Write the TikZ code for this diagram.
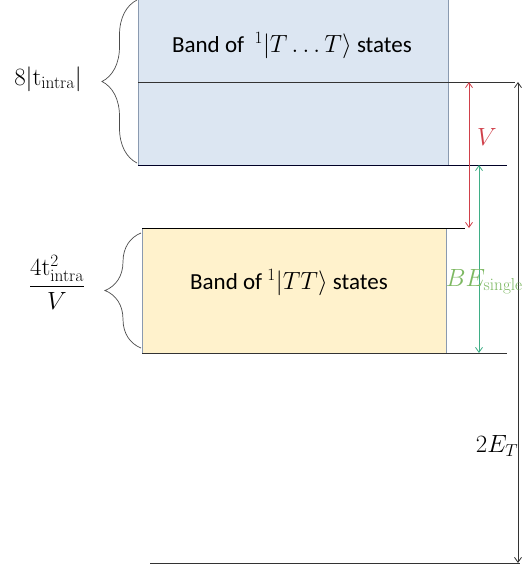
\documentclass[tikz,border=0pt]{standalone}
\usepackage[no-math]{fontspec}
\setmainfont{Carlito}
\usetikzlibrary{arrows.meta,decorations.pathreplacing}

\definecolor{bandblue}{HTML}{DCE6F2}
\definecolor{bandyellow}{HTML}{FFF2CC}
\definecolor{edgegray}{HTML}{8A9AB0}
\definecolor{gapred}{HTML}{D0404A}
\definecolor{bindgreen}{HTML}{3FAE86}
\definecolor{labelgreen}{HTML}{7DB862}

\tikzset{
  level/.style={draw=black!80, line width=0.8pt},
  gap/.style={line width=0.8pt, {Straight Barb[length=5pt,width=7pt]}-{Straight Barb[length=5pt,width=7pt]}},
  bandbrace/.style={decorate, decoration={brace, amplitude=#1}, draw=black!70, line width=0.7pt},
  big/.style={font=\fontsize{23}{27}\selectfont},
  mathbig/.style={font=\fontsize{24}{28}\selectfont}
}

\begin{document}
\begin{tikzpicture}[x=1pt,y=-1pt]
            \useasboundingbox (0,0) rectangle (525,571);

            % bands
            \fill[bandblue] (138,-2) rectangle (448,165);
            \fill[bandyellow] (142,228) rectangle (446,353);
            \draw[edgegray, line width=0.8pt] (138,-2)--(138,165);
            \draw[edgegray, line width=0.8pt] (448,-2)--(448,165);
            \draw[edgegray, line width=0.8pt] (142,228)--(142,353);
            \draw[edgegray, line width=0.8pt] (446,228)--(446,353);

            \node[big] (tband) at (292,46) {Band of \ $^1|T\ldots T\rangle$ states};
            \node[big] (ttband) at (289,283) {Band of $^1|TT\rangle$ states};

            % levels
            \coordinate (ttop) at (138,82);
            \coordinate (tbot) at (138,165);
            \coordinate (ptop) at (142,228);
            \coordinate (pbot) at (142,353);
            \coordinate (zero) at (150,563);

            \draw[level] (ttop)--(515,82);
            \draw[level, draw=black!85!blue] (tbot)--(507,165);
            \draw[level, draw=black] (ptop)--(465,228);
            \draw[level] (pbot)--(507,353);
            \draw[level] (zero)--(520,563);

            % gaps
            \coordinate (va) at (469,82);
            \coordinate (vb) at (469,228);
            \coordinate (ba) at (479,165);
            \coordinate (bb) at (479,353);
            \coordinate (ea) at (518,82);
            \coordinate (eb) at (518,563);

            \draw[gap, gapred] (va)--(vb);
            \draw[gap, bindgreen] (ba)--(bb);
            \draw[gap, black!80] (ea)--(eb);

            \node[mathbig, gapred] (vlabel) at (487,137) {$V$};
            \node[mathbig, labelgreen, anchor=east, inner sep=1pt] (belabel) at (524,282) {$BE_{\mathrm{single}}$};
            \node[mathbig] (elabel) at (497,446) {$2E_T$};

            % widths
            \draw[bandbrace=35pt] (137,163)--(137,0);
            \draw[bandbrace=36pt] (141,348)--(141,233);

            \node[font=\fontsize{25}{29}\selectfont] (wt) at (48,79) {$8|\mathrm{t}_{\mathrm{intra}}|$};
            \node[font=\fontsize{26}{30}\selectfont] (wtt) at (57,282) {$\displaystyle\frac{4\mathrm{t}_{\mathrm{intra}}^2}{V}$};
        \end{tikzpicture}
\end{document}
